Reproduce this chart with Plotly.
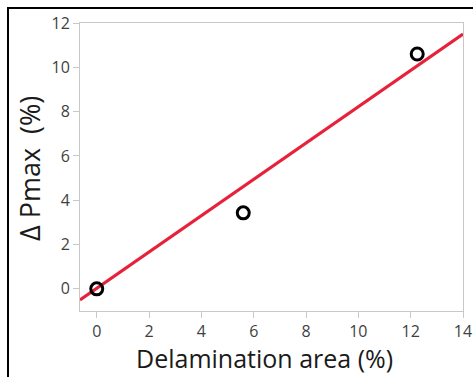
import plotly.graph_objects as go

# Data
area = [0.0, 5.6, 12.25]
dpmax = [0.0, 3.43, 10.6]
fit_x = [-0.64, 14.0]
fit_y = [-0.5, 11.5]

x_ticks = [0, 2, 4, 6, 8, 10, 12, 14]
y_ticks = [0, 2, 4, 6, 8, 10, 12]

fig = go.Figure()
fig.add_trace(go.Scatter(x=fit_x, y=fit_y, mode="lines",
                         line=dict(color="#E8213B", width=3), showlegend=False))
fig.add_trace(go.Scatter(x=area, y=dpmax, mode="markers",
                         marker=dict(symbol="circle-open", size=12, color="black",
                                     line=dict(width=3, color="black")),
                         showlegend=False))

axis_common = dict(showgrid=False, zeroline=False, showline=True, linecolor="#C8C8C8",
                   linewidth=1, mirror=True, ticks="outside", tickcolor="#C8C8C8",
                   ticklen=6, automargin=False,
                   tickfont=dict(family="Open Sans", size=16, color="#3f3f3f"))

fig.update_xaxes(range=[-0.64, 14], tickvals=x_ticks, **axis_common)
fig.update_yaxes(range=[-1, 12], tickvals=y_ticks, **axis_common)

W, H = 473, 377
ml, mr, mt, mb = 80, 10, 23, 66
pw, ph = W - ml - mr, H - mt - mb

title_font = dict(family="Open Sans", size=25, color="#1a1a1a")
fig.add_annotation(text="Delamination area (%)", xref="paper", yref="paper",
                   x=(264 - ml) / pw, y=(H - mb - 358) / ph, xanchor="center", yanchor="middle",
                   showarrow=False, font=title_font)
fig.add_annotation(text="Δ Pmax  (%)", xref="paper", yref="paper",
                   x=(29 - ml) / pw, y=(H - mb - 169) / ph, xanchor="center", yanchor="middle",
                   textangle=-90, showarrow=False, font=dict(family="Open Sans", size=27, color="#1a1a1a"))

fig.add_shape(type="rect", xref="paper", yref="paper",
              x0=(8 - ml) / pw, x1=(490 - ml) / pw,
              y0=(H - mb - 395) / ph, y1=(H - mb - 8) / ph,
              line=dict(color="black", width=2), fillcolor="rgba(0,0,0,0)", layer="above")

fig.update_layout(width=W, height=H, margin=dict(l=ml, r=mr, t=mt, b=mb),
                  plot_bgcolor="white", paper_bgcolor="white")
fig.write_html("out.html")
